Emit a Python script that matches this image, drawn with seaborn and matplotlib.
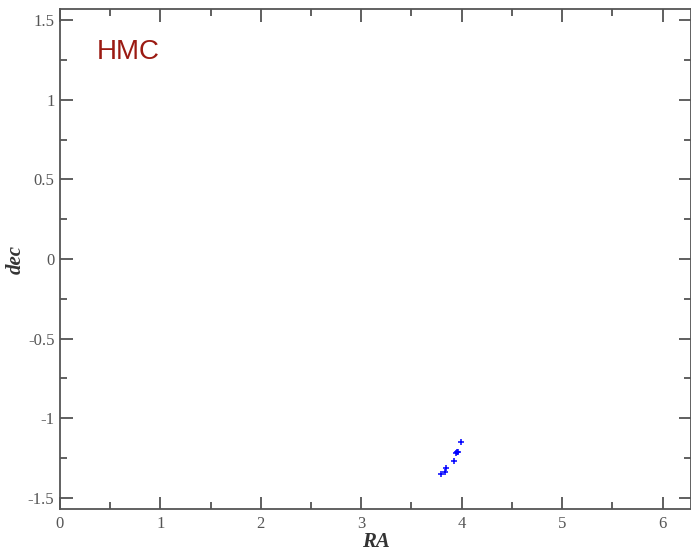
import numpy as np
import pandas as pd
import matplotlib
matplotlib.use("Agg")
import matplotlib.pyplot as plt
import seaborn as sns
from matplotlib.ticker import MultipleLocator

# HMC samples in (RA, dec)
ra = [3.997, 3.951, 3.944, 3.964, 3.924, 3.845, 3.835, 3.792]
dec = [-1.147, -1.210, -1.222, -1.212, -1.272, -1.314, -1.337, -1.352]
x_ticks = [0, 1, 2, 3, 4, 5, 6]
y_ticks = [-1.5, -1, -0.5, 0, 0.5, 1, 1.5]
y_tick_labels = ["-1.5", "-1", "-0.5", "0", "0.5", "1", "1.5"]

df = pd.DataFrame({"RA": ra, "dec": dec})

sns.set_theme(style="ticks")
plt.rcParams["font.family"] = ["Liberation Serif", "DejaVu Serif"]

fig = plt.figure(figsize=(6.91, 5.53), dpi=100)
ax = fig.add_axes([60 / 691, 44 / 553, 631 / 691, 500 / 553])

sns.scatterplot(data=df, x="RA", y="dec", ax=ax, marker="+", color="#0000ff",
                s=20, linewidth=1.1)

ax.set_xlim(0, 2 * np.pi)
ax.set_ylim(-np.pi / 2, np.pi / 2)
ax.set_xticks(x_ticks)
ax.set_xticklabels([str(t) for t in x_ticks])
ax.set_yticks(y_ticks)
ax.set_yticklabels(y_tick_labels)
ax.xaxis.set_minor_locator(MultipleLocator(0.5))
ax.yaxis.set_minor_locator(MultipleLocator(0.25))

ax.tick_params(which="both", direction="in", top=True, right=True,
               color="#444444", width=1.2)
ax.tick_params(which="major", length=9, labelsize=12, labelcolor="#555555")
ax.tick_params(axis="x", which="major", pad=5)
ax.tick_params(axis="y", which="major", pad=4)
ax.tick_params(which="minor", length=5)
for sp in ax.spines.values():
    sp.set_color("#555555")
    sp.set_linewidth(1.3)

ax.set_xlabel("RA", fontsize=15, fontweight="bold", fontstyle="italic",
              color="#333333", labelpad=0)
ax.set_ylabel("dec", fontsize=15, fontweight="bold", fontstyle="italic",
              color="#333333")
ax.yaxis.set_label_coords(-0.054, 0.5)

ax.text(0.37, 1.30, "HMC", fontsize=20, color="#9b1a12",
        family=["Liberation Sans", "DejaVu Sans"], va="center", ha="left")

fig.savefig("out.png", dpi=100)
